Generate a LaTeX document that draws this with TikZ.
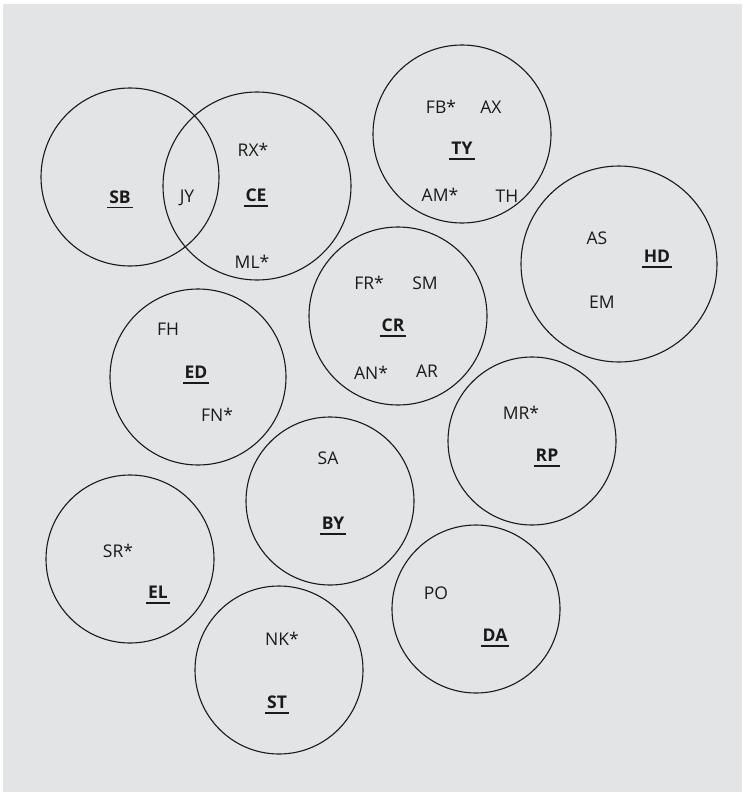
\documentclass[tikz,border=0pt]{standalone}
\usepackage{fontspec}
\setmainfont{Open Sans}
\usepackage{tikz}
\definecolor{panel}{HTML}{E3E4E6}
\definecolor{ink}{HTML}{1A1A1A}
\newcommand\ulabel[1]{\setbox0\hbox{\bfseries#1}%
  \rlap{\kern-2pt\vrule width\dimexpr\wd0+4pt\relax height -3.6pt depth 5.1pt}\box0}

\begin{document}
\begin{tikzpicture}[
    x=1pt,y=-1pt,
    group/.style={circle,draw=ink,line width=1.1pt,inner sep=0pt,minimum size=#1},
    member/.style={anchor=base,inner sep=0pt,text=ink,font=\fontsize{17.5}{20}\selectfont},
    lead/.style={member}
]
\useasboundingbox (0,0) rectangle (742,792);
\fill[panel] (3,4) rectangle (742,792);
\node[group=178pt] (sb) at (130,177) {};
\node[group=188pt] (ce) at (257,186) {};
\node[group=178pt] (ty) at (462,134) {};
\node[group=196pt] (hd) at (619,264) {};
\node[group=178pt] (cr) at (398,316) {};
\node[group=176pt] (ed) at (198,377) {};
\node[group=168pt] (rp) at (532,441) {};
\node[group=168pt] (by) at (330,501) {};
\node[group=168pt] (el) at (130,559) {};
\node[group=168pt] (st) at (279,670) {};
\node[group=168pt] (da) at (476,609) {};
\node[lead] (sbname) at (120,203) {\ulabel{SB}};
\node[member] (jy) at (187,202.5) {JY};
\node[lead] (cename) at (256,201.5) {\ulabel{CE}};
\node[member] (rx) at (253,156.5) {RX*};
\node[member] (ml) at (252,268.5) {ML*};
\node[member] (fb) at (441,113.5) {FB*};
\node[member] (ax) at (491,113.5) {AX};
\node[lead] (tyname) at (462,154.5) {\ulabel{TY}};
\node[member] (am) at (440,201.5) {AM*};
\node[member] (th) at (507,202.5) {TH};
\node[member] (as) at (597,244.5) {AS};
\node[lead] (hdname) at (657,262.5) {\ulabel{HD}};
\node[member] (em) at (602,308.5) {EM};
\node[member] (fr) at (369,289.5) {FR*};
\node[member] (sm) at (425,289.5) {SM};
\node[lead] (crname) at (393,331.5) {\ulabel{CR}};
\node[member] (an) at (371,379.5) {AN*};
\node[member] (ar) at (427,377.5) {AR};
\node[member] (fh) at (168,335.5) {FH};
\node[lead] (edname) at (196,378.5) {\ulabel{ED}};
\node[member] (fn) at (217,421.5) {FN*};
\node[member] (sa) at (328,464.5) {SA};
\node[lead] (byname) at (333,529.5) {\ulabel{BY}};
\node[member] (mr) at (521,419.5) {MR*};
\node[lead] (rpname) at (547,461.5) {\ulabel{RP}};
\node[member] (sr) at (118,557.5) {SR*};
\node[lead] (elname) at (158,598.5) {\ulabel{EL}};
\node[member] (nk) at (282,645.5) {NK*};
\node[lead] (stname) at (277,708.5) {\ulabel{ST}};
\node[member] (po) at (436,599.5) {PO};
\node[lead] (daname) at (495,641.5) {\ulabel{DA}};
\end{tikzpicture}
\end{document}
